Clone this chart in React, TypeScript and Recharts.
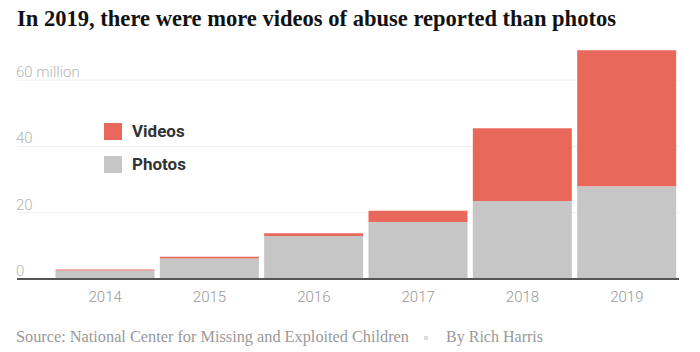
import { Bar, BarChart, CartesianGrid, XAxis, YAxis } from 'recharts'

const years = ['2014', '2015', '2016', '2017', '2018', '2019']
const photos = [2.6, 6.2, 13.0, 17.2, 23.5, 28.0]
const videos = [0.3, 0.5, 0.8, 3.4, 22.0, 41.0]
const yTicks = [0, 20, 40, 60]
const seriesNames = ['Videos', 'Photos']

const VIDEO_COLOR = '#e8695b'
const PHOTO_COLOR = '#c6c6c6'

const chartData = years.map((year, i) => ({
    year,
    photos: photos[i],
    videos: videos[i],
}))

const sans = 'Roboto, "Noto Sans", sans-serif'
const serif = '"Liberation Serif", "DejaVu Serif", serif'

// y tick labels sit just above their gridline, flush with the left edge
function renderYTick(props: any) {
    const { y, payload } = props
    const label = payload.value === 60 ? '60 million' : String(payload.value)
    return (
        <text key={payload.value} x={16} y={y - 7} dominantBaseline="middle" fontFamily={sans} fontWeight={300} fontSize={15} fill="#b5b5b5">
            {label}
        </text>
    )
}

export default function App() {
    return (
        <div style={{ position: 'fixed', top: 0, left: 0, width: 700, height: 352, background: '#fff', overflow: 'hidden' }}>
            <svg width={700} height={40} style={{ position: 'absolute', top: 0, left: 0 }}>
                <text x={17} y={26} fontFamily={serif} fontWeight={700} fontSize={23} fill="#121212" textLength={599} lengthAdjust="spacingAndGlyphs">
                    In 2019, there were more videos of abuse reported than photos
                </text>
            </svg>

            <BarChart
                width={700}
                height={352}
                data={chartData}
                margin={{ top: 47, right: 21, left: 16, bottom: 0 }}
                barCategoryGap={2.5}
            >
                <CartesianGrid horizontal vertical={false} stroke="#eee" horizontalValues={yTicks} />
                <XAxis
                    dataKey="year"
                    height={73}
                    padding={{ left: 36, right: 0 }}
                    axisLine={{ stroke: '#555', strokeWidth: 2 }}
                    tickLine={false}
                    tick={{ fontFamily: sans, fontWeight: 300, fontSize: 15, fill: '#999' }}
                    tickMargin={6}
                />
                <YAxis
                    width={1}
                    domain={[0, 70]}
                    ticks={yTicks}
                    interval={0}
                    axisLine={false}
                    tickLine={false}
                    tick={renderYTick}
                />
                <Bar dataKey="photos" stackId="a" fill={PHOTO_COLOR} isAnimationActive={false} />
                <Bar dataKey="videos" stackId="a" fill={VIDEO_COLOR} isAnimationActive={false} />
            </BarChart>

            <div style={{ position: 'absolute', top: 123, left: 104, fontFamily: sans, fontWeight: 700, fontSize: 17, color: '#333' }}>
                {seriesNames.map((name, i) => (
                    <div key={name} style={{ display: 'flex', alignItems: 'center', height: 17, marginBottom: 16 }}>
                        <span style={{ width: 18, height: 17, background: i === 0 ? VIDEO_COLOR : PHOTO_COLOR, marginRight: 10 }} />
                        <span style={{ lineHeight: '17px' }}>{name}</span>
                    </div>
                ))}
            </div>

            <svg width={700} height={30} style={{ position: 'absolute', top: 322, left: 0 }}>
                <text x={16} y={20} fontFamily={serif} fontSize={16} fill="#999" textLength={393} lengthAdjust="spacingAndGlyphs">
                    Source: National Center for Missing and Exploited Children
                </text>
                <rect x={424} y={14} width={4} height={4} fill="#ddd" />
                <text x={446} y={20} fontFamily={serif} fontSize={16} fill="#999" textLength={97} lengthAdjust="spacingAndGlyphs">
                    By Rich Harris
                </text>
            </svg>
        </div>
    )
}
